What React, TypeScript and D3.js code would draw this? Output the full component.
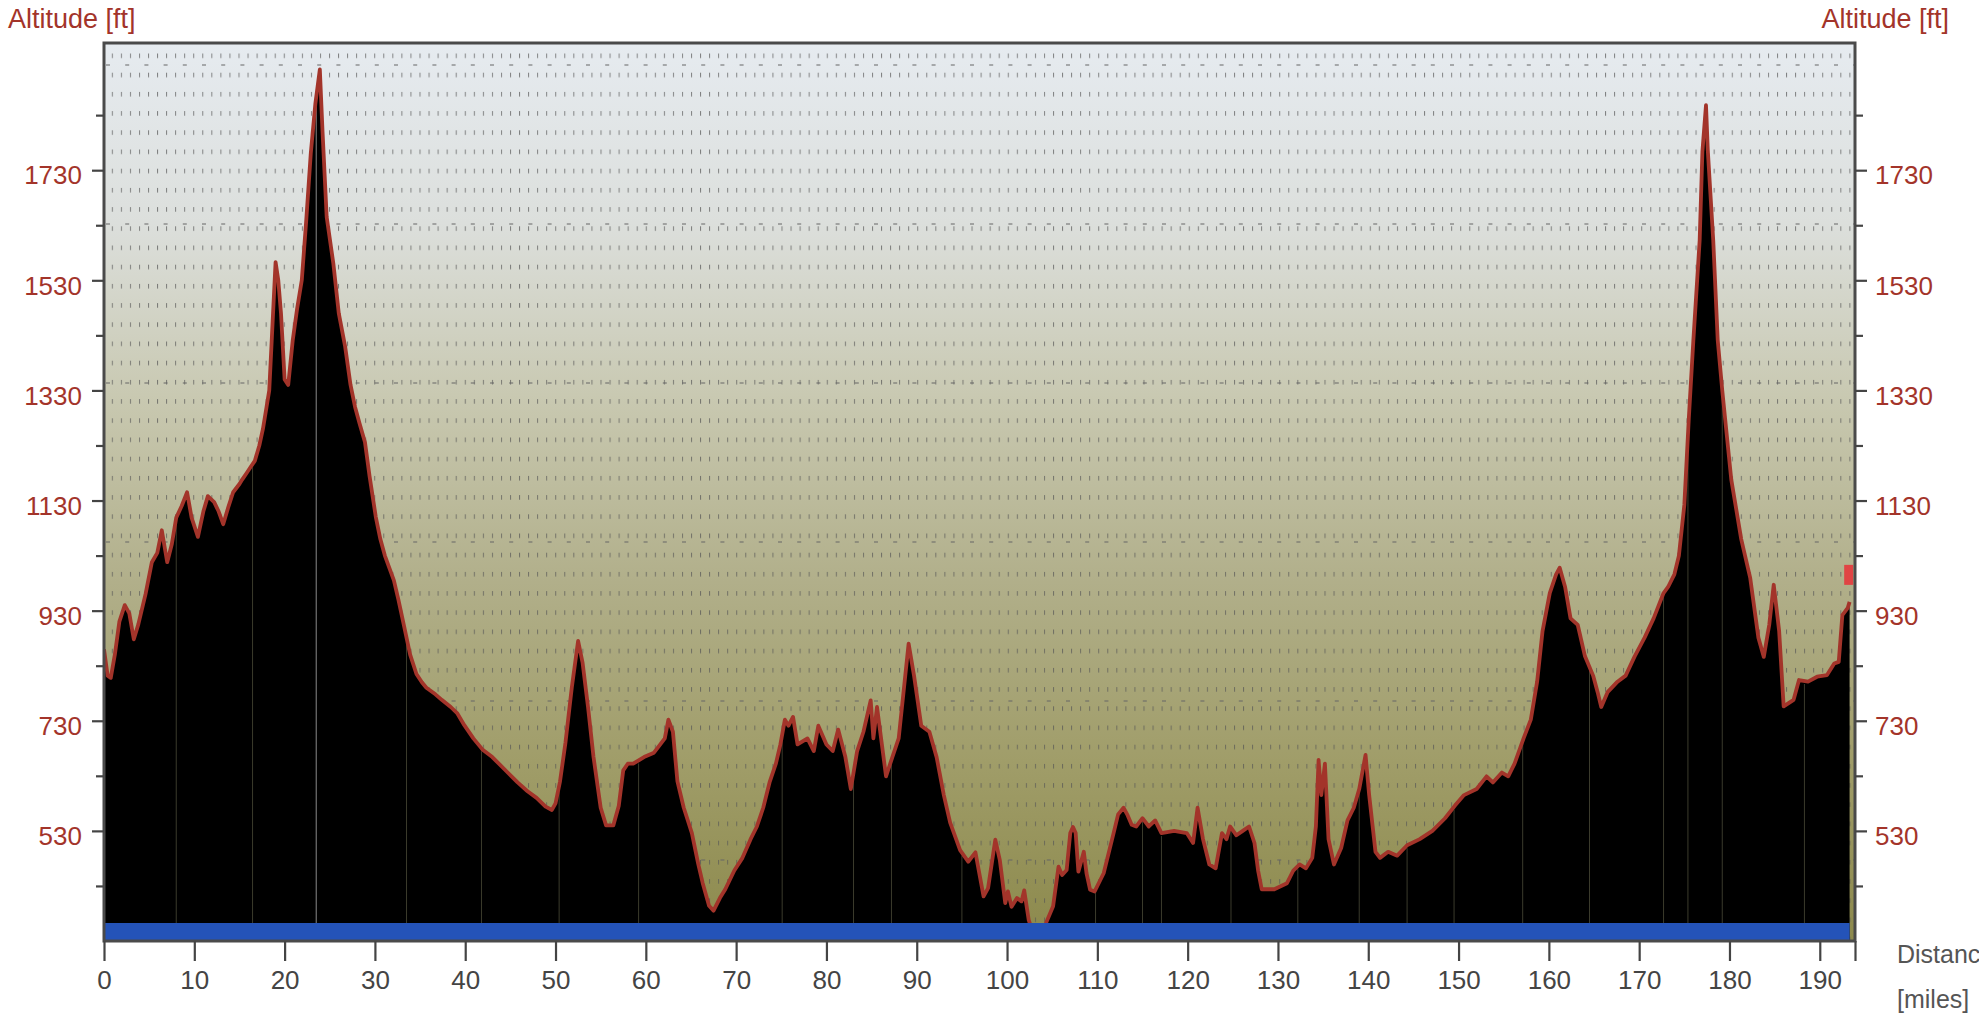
import React, { useEffect, useRef } from 'react';
import * as d3 from 'd3';

// profile distance along the route (miles) and altitude (ft)
const miles = [
  0, 0.4, 0.75, 1.2, 1.7, 2.3, 2.8, 3.3, 3.8, 4.6, 5.3, 5.9, 6.4, 7.0, 7.5, 8.0, 8.6, 9.2, 9.7, 10.4,
  11.0, 11.5, 12.2, 12.7, 13.2, 13.8, 14.3, 15.0, 15.3, 15.8, 16.2, 16.7, 17.2, 17.6, 18.0, 18.3, 18.6, 19.0, 19.3, 19.6,
  20.0, 20.4, 20.9, 21.4, 21.9, 22.4, 22.9, 23.4, 23.9, 24.2, 24.66, 25.4, 26.0, 26.7, 27.3, 27.8, 28.3, 28.9, 29.4, 30.1,
  30.6, 31.1, 32.1, 32.6, 33.2, 33.9, 34.6, 35.2, 35.7, 36.7, 37.4, 38.4, 39.1, 39.9, 40.9, 41.9, 43.0, 44.4, 45.8, 46.9,
  47.9, 48.9, 49.6, 50.0, 50.5, 51.1, 51.8, 52.5, 53.0, 53.6, 54.2, 55.0, 55.6, 56.4, 57.0, 57.5, 58.0, 58.6, 59.8, 60.9,
  61.6, 62.1, 62.5, 63.0, 63.5, 64.2, 65.1, 65.8, 66.3, 67.0, 67.5, 68.2, 68.8, 69.8, 70.7, 71.6, 72.3, 73.0, 73.7, 74.4,
  74.9, 75.4, 75.8, 76.3, 76.8, 77.9, 78.6, 79.1, 80.0, 80.7, 81.3, 82.1, 82.7, 83.4, 84.1, 84.9, 85.2, 85.6, 86.6, 87.3,
  88.0, 89.1, 89.7, 90.5, 91.4, 92.2, 93.0, 93.7, 94.8, 95.7, 96.5, 97.4, 97.9, 98.7, 99.2, 99.8, 100.1, 100.5, 101.1, 101.6,
  101.9, 102.4, 103.0, 103.8, 104.4, 105.1, 105.7, 106.1, 106.6, 107.0, 107.3, 107.6, 107.9, 108.5, 108.8, 109.2, 109.7, 110.7, 111.8, 112.3,
  112.9, 113.3, 113.8, 114.3, 115.0, 115.7, 116.4, 117.1, 118.5, 119.9, 120.6, 121.1, 121.7, 122.4, 123.1, 123.8, 124.3, 124.7, 125.4, 126.1,
  126.8, 127.4, 127.8, 128.2, 129.6, 131.0, 131.7, 132.4, 133.1, 133.8, 134.2, 134.5, 134.8, 135.2, 135.6, 136.2, 137.0, 137.7, 138.4, 139.0,
  139.7, 140.1, 140.8, 141.3, 142.2, 143.2, 144.3, 145.7, 147.1, 148.5, 149.6, 150.6, 152.0, 153.1, 153.8, 154.8, 155.5, 156.2, 157.2, 158.0,
  158.7, 159.3, 160.1, 160.8, 161.2, 161.8, 162.4, 163.2, 164.0, 164.9, 165.4, 165.8, 166.5, 167.6, 168.5, 169.5, 170.6, 171.6, 172.7, 173.2,
  173.9, 174.4, 175.0, 175.5, 176.0, 176.7, 177.0, 177.4, 177.6, 178.2, 178.7, 179.2, 180.2, 181.3, 182.3, 183.2, 183.8, 184.4, 184.9, 185.5,
  186.0, 187.1, 187.7, 188.7, 189.7, 190.8, 191.6, 192.1, 192.5, 193.1, 193.3,
];

const altitudeFt = [
  860, 812, 808, 850, 910, 940, 925, 878, 905, 960, 1018, 1035, 1076, 1018, 1050, 1099, 1120, 1145, 1099, 1064,
  1110, 1138, 1127, 1110, 1087, 1120, 1145, 1160, 1168, 1180, 1190, 1202, 1230, 1260, 1300, 1330, 1430, 1563, 1530, 1470,
  1350, 1340, 1421, 1480, 1530, 1640, 1761, 1850, 1913, 1800, 1645, 1560, 1470, 1410, 1340, 1300, 1270, 1236, 1175, 1100,
  1060, 1030, 985, 950, 904, 850, 815, 800, 790, 778, 768, 755, 744, 722, 698, 678, 664, 641, 618, 602,
  590, 574, 568, 580, 620, 690, 790, 875, 835, 755, 665, 572, 540, 540, 575, 640, 652, 652, 664, 672,
  687, 698, 732, 710, 620, 572, 526, 470, 435, 394, 385, 408, 424, 458, 481, 515, 538, 572, 618, 652,
  687, 732, 721, 737, 687, 698, 675, 721, 687, 675, 714, 664, 606, 675, 710, 767, 698, 755, 629, 664,
  698, 870, 812, 721, 710, 664, 595, 545, 495, 474, 491, 411, 426, 514, 477, 399, 420, 392, 408, 402,
  422, 368, 340, 340, 366, 393, 465, 450, 459, 526, 537, 526, 456, 492, 453, 423, 420, 453, 526, 560,
  572, 560, 541, 538, 553, 538, 549, 526, 530, 526, 508, 572, 515, 469, 462, 526, 515, 538, 522, 530,
  538, 508, 458, 424, 424, 435, 458, 469, 462, 481, 538, 659, 595, 652, 515, 469, 499, 549, 572, 606,
  668, 595, 492, 481, 492, 485, 504, 515, 530, 553, 576, 595, 606, 629, 618, 636, 629, 652, 698, 732,
  801, 893, 962, 996, 1008, 973, 916, 904, 847, 812, 782, 755, 782, 801, 812, 847, 881, 916, 962, 973,
  996, 1030, 1122, 1280, 1421, 1603, 1763, 1848, 1766, 1603, 1421, 1330, 1168, 1060, 989, 881, 846, 904, 977, 893,
  756, 768, 804, 801, 810, 813, 834, 837, 922, 935, 946,
];

// waypoint markers along the route (miles)
const waypointMiles = [8.0, 16.45, 23.5, 33.5, 41.8, 50.4, 59.2, 75.1, 83.0, 87.2, 95.0, 109.8, 115.0, 117.1, 124.8, 132.2, 139.0, 144.3, 149.5, 157.1, 164.5, 172.7, 175.4, 179.2, 188.3];

const xTickValues = [0, 10, 20, 30, 40, 50, 60, 70, 80, 90, 100, 110, 120, 130, 140, 150, 160, 170, 180, 190];
const yTickLabels = [530, 730, 930, 1130, 1330, 1530, 1730];
const yMinorTicks = [430, 630, 830, 1030, 1230, 1430, 1630, 1830];

const markerMile = 193.2;
const markerAlt = 995;

export default function App() {
  const ref = useRef<SVGSVGElement>(null);

  useEffect(() => {
    const svg = d3.select(ref.current);
    svg.selectAll('*').remove();

    const left = 104, top = 43, right = 1855, bottom = 941;
    const x = d3.scaleLinear().domain([0, 193.9]).range([left, right]);
    const y = d3.scaleLinear().domain([330, 1961]).range([bottom, top]);

    const red = '#a3342a';
    const axisGray = '#444';
    const font = '"Liberation Sans", Arial, sans-serif';

    const defs = svg.append('defs');
    const grad = defs.append('linearGradient').attr('id', 'bg')
      .attr('x1', 0).attr('y1', 0).attr('x2', 0).attr('y2', 1);
    [[0, '#e6ebf0'], [0.2, '#dcdfdc'], [0.4, '#c8c8b0'], [0.6, '#b1af8a'], [0.8, '#a09d69'], [1, '#8c894c']]
      .forEach(([o, c]) => grad.append('stop').attr('offset', o as number).attr('stop-color', c as string));

    defs.append('clipPath').attr('id', 'plotClip').append('rect')
      .attr('x', left).attr('y', top).attr('width', right - left).attr('height', bottom - top);

    const pat = defs.append('pattern').attr('id', 'dots')
      .attr('patternUnits', 'userSpaceOnUse')
      .attr('x', 111.8).attr('y', 72.7).attr('width', 9.05).attr('height', 19.2);
    pat.append('rect').attr('width', 1).attr('height', 4.6).attr('fill', '#555').attr('opacity', 0.7);

    // background + grid
    svg.append('rect').attr('x', left).attr('y', top).attr('width', right - left).attr('height', bottom - top)
      .attr('fill', 'url(#bg)');
    svg.append('rect').attr('x', left).attr('y', top).attr('width', right - left).attr('height', bottom - top)
      .attr('fill', 'url(#dots)');
    d3.range(65, bottom, 159).forEach(gy => {
      svg.append('line').attr('x1', left + 2).attr('x2', right).attr('y1', gy).attr('y2', gy)
        .attr('stroke', '#666').attr('stroke-width', 1.2).attr('stroke-dasharray', '4 15.2');
    });

    const plot = svg.append('g').attr('clip-path', 'url(#plotClip)');
    const pts = miles.map((m, i) => [m, altitudeFt[i]] as [number, number]);

    const area = d3.area<[number, number]>()
      .x(d => x(d[0])).y0(bottom).y1(d => y(d[1]));
    plot.append('path').datum(pts).attr('d', area).attr('fill', '#000');

    // waypoint verticals
    const altAt = (m: number) => {
      const i = d3.bisectLeft(miles, m);
      if (i <= 0) return altitudeFt[0];
      if (i >= miles.length) return altitudeFt[miles.length - 1];
      const t = (m - miles[i - 1]) / (miles[i] - miles[i - 1]);
      return altitudeFt[i - 1] + t * (altitudeFt[i] - altitudeFt[i - 1]);
    };
    plot.selectAll('.wp').data(waypointMiles).enter().append('line')
      .attr('class', 'wp')
      .attr('x1', d => x(d)).attr('x2', d => x(d))
      .attr('y1', d => y(altAt(d)) + 3).attr('y2', bottom)
      .attr('stroke', d => d === 23.5 ? '#8a8a8a' : '#3b3b2c').attr('stroke-width', 1);

    const line = d3.line<[number, number]>().x(d => x(d[0])).y(d => y(d[1]));
    plot.append('path').datum(pts).attr('d', line)
      .attr('fill', 'none').attr('stroke', red).attr('stroke-width', 3.8).attr('stroke-linejoin', 'round');

    // route bar
    plot.append('rect').attr('x', x(0)).attr('y', bottom - 18)
      .attr('width', x(miles[miles.length - 1]) - x(0)).attr('height', 18).attr('fill', '#2453b8');

    // position marker
    plot.append('rect').attr('x', x(markerMile) - 4.5).attr('y', y(markerAlt) - 10)
      .attr('width', 9).attr('height', 20).attr('fill', '#e04444');

    // frame
    svg.append('rect').attr('x', left).attr('y', top).attr('width', right - left).attr('height', bottom - top)
      .attr('fill', 'none').attr('stroke', '#4a4a4a').attr('stroke-width', 3);

    const styleAxis = (g: d3.Selection<SVGGElement, unknown, null, undefined>, color: string) => {
      g.select('.domain').remove();
      g.selectAll('.tick line').attr('stroke', axisGray).attr('stroke-width', 2.2);
      g.selectAll('.tick text').attr('fill', color).style('font', `26px ${font}`);
    };

    // x axis
    const xa = svg.append('g').attr('transform', `translate(0,${bottom})`)
      .call(d3.axisBottom(x).tickValues(xTickValues).tickSize(20).tickPadding(10).tickFormat(d3.format('d')));
    styleAxis(xa, axisGray);
    svg.append('g').attr('transform', `translate(0,${bottom})`)
      .call(d3.axisBottom(x).tickValues([x.domain()[1]]).tickSize(20).tickFormat(() => ''))
      .call(g => styleAxis(g, axisGray));

    // y axes
    const yl = svg.append('g').attr('transform', `translate(${left},0)`)
      .call(d3.axisLeft(y).tickValues(yTickLabels).tickSize(12).tickPadding(10).tickFormat(d3.format('d')));
    styleAxis(yl, red);
    yl.selectAll('.tick text').attr('dy', '0.53em');
    svg.append('g').attr('transform', `translate(${left},0)`)
      .call(d3.axisLeft(y).tickValues(yMinorTicks).tickSize(8).tickFormat(() => ''))
      .call(g => styleAxis(g, red));

    const yr = svg.append('g').attr('transform', `translate(${right},0)`)
      .call(d3.axisRight(y).tickValues(yTickLabels).tickSize(12).tickPadding(8).tickFormat(d3.format('d')));
    styleAxis(yr, red);
    yr.selectAll('.tick text').attr('dy', '0.53em');
    svg.append('g').attr('transform', `translate(${right},0)`)
      .call(d3.axisRight(y).tickValues(yMinorTicks).tickSize(8).tickFormat(() => ''))
      .call(g => styleAxis(g, red));

    // titles
    svg.append('text').attr('x', 8).attr('y', 28).attr('fill', red)
      .style('font', `27px ${font}`).text('Altitude [ft]');
    svg.append('text').attr('x', 1949).attr('y', 28).attr('fill', red).attr('text-anchor', 'end')
      .style('font', `27px ${font}`).text('Altitude [ft]');
    // axis title sits at the right edge, clipped by the frame as in the source
    svg.append('text').attr('x', 1897).attr('y', 963).attr('fill', '#555')
      .style('font', `25px ${font}`).text('Distance');
    svg.append('text').attr('x', 1897).attr('y', 1008).attr('fill', '#555')
      .style('font', `25px ${font}`).text('[miles]');
  }, []);

  return (
    <svg ref={ref} width={1979} height={1018}
      style={{ position: 'absolute', left: 0, top: 0, background: '#fff' }} />
  );
}
